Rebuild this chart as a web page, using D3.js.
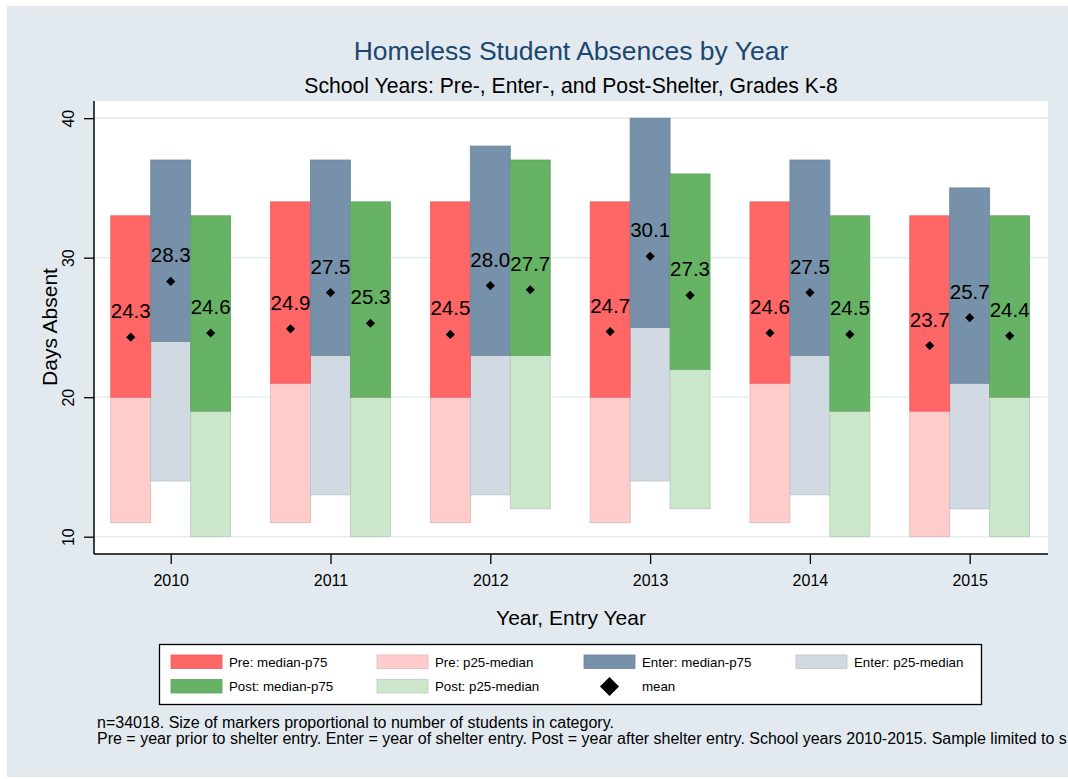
<!DOCTYPE html>
<html>
<head>
<meta charset="utf-8">
<script src="https://cdn.jsdelivr.net/npm/d3@7"></script>
<style>
  html, body { margin: 0; padding: 0; background: #ffffff; }
  svg { display: block; font-family: "Liberation Sans", Arial, sans-serif; }
</style>
</head>
<body>
<svg id="chart" width="1068" height="779"></svg>
<script>
// ---------- data ----------
const years = [2010, 2011, 2012, 2013, 2014, 2015];
const groups = ["Pre", "Enter", "Post"];

const preP25    = [11, 11, 11, 11, 11, 10];
const preMedian = [20, 21, 20, 20, 21, 19];
const preP75    = [33, 34, 34, 34, 34, 33];
const preMean   = [24.3, 24.9, 24.5, 24.7, 24.6, 23.7];

const enterP25    = [14, 13, 13, 14, 13, 12];
const enterMedian = [24, 23, 23, 25, 23, 21];
const enterP75    = [37, 37, 38, 40, 37, 35];
const enterMean   = [28.3, 27.5, 28.0, 30.1, 27.5, 25.7];

const postP25    = [10, 10, 12, 12, 10, 10];
const postMedian = [19, 20, 23, 22, 19, 20];
const postP75    = [33, 34, 37, 36, 33, 33];
const postMean   = [24.6, 25.3, 27.7, 27.3, 24.5, 24.4];

const yTicks = [10, 20, 30, 40];

const titleText = "Homeless Student Absences by Year";
const subtitleText = "School Years: Pre-, Enter-, and Post-Shelter, Grades K-8";
const yTitle = "Days Absent";
const xTitle = "Year, Entry Year";
const legendLabels = ["Pre: median-p75", "Pre: p25-median", "Enter: median-p75", "Enter: p25-median",
                      "Post: median-p75", "Post: p25-median", "mean"];
const notes = [
  "n=34018. Size of markers proportional to number of students in category.",
  "Pre = year prior to shelter entry. Enter = year of shelter entry. Post = year after shelter entry. School years 2010-2015. Sample limited to s"
];

// ---------- styles ----------
const colUpper = { Pre: "#ff6666", Enter: "#7691a9", Post: "#66b366" };
const colLower = { Pre: "#ffcccc", Enter: "#d1dae2", Post: "#cce6cc" };
const groupOffset = { Pre: -0.25, Enter: 0, Post: 0.25 };

const series = {
  Pre:   { p25: preP25,   med: preMedian,   p75: preP75,   mean: preMean },
  Enter: { p25: enterP25, med: enterMedian, p75: enterP75, mean: enterMean },
  Post:  { p25: postP25,  med: postMedian,  p75: postP75,  mean: postMean }
};

const rows = [];
groups.forEach(g => years.forEach((yr, i) => rows.push({
  g, year: yr, p25: series[g].p25[i], med: series[g].med[i], p75: series[g].p75[i], mean: series[g].mean[i]
})));

const svg = d3.select("#chart");

// backgrounds
svg.append("rect").attr("x", 7).attr("y", 6).attr("width", 1061).attr("height", 771).attr("fill", "#e2eaf0");
const plot = { left: 94, right: 1048, top: 101, bottom: 554 };
svg.append("rect").attr("x", plot.left).attr("y", plot.top)
   .attr("width", plot.right - plot.left).attr("height", plot.bottom - plot.top).attr("fill", "#ffffff");

const x = d3.scaleLinear().domain([2009.52, 2015.49]).range([plot.left, plot.right]);
const y = d3.scaleLinear().domain([8.76, 41.23]).range([plot.bottom, plot.top]);

// gridlines
svg.append("g").selectAll("line").data(yTicks).join("line")
  .attr("x1", plot.left).attr("x2", plot.right)
  .attr("y1", d => y(d)).attr("y2", d => y(d))
  .attr("stroke", "#e6eef1").attr("stroke-width", 1.6);

const bw = x(2010.25) - x(2010);

// lower boxes (p25 - median)
svg.append("g").selectAll("rect").data(rows).join("rect")
  .attr("x", d => x(d.year + groupOffset[d.g]) - bw / 2)
  .attr("width", bw)
  .attr("y", d => y(d.med))
  .attr("height", d => y(d.p25) - y(d.med))
  .attr("fill", d => colLower[d.g])
  .attr("stroke", d => d3.color(colLower[d.g]).darker(0.35))
  .attr("stroke-width", 0.8);

// upper boxes (median - p75)
svg.append("g").selectAll("rect").data(rows).join("rect")
  .attr("x", d => x(d.year + groupOffset[d.g]) - bw / 2)
  .attr("width", bw)
  .attr("y", d => y(d.p75))
  .attr("height", d => y(d.med) - y(d.p75))
  .attr("fill", d => colUpper[d.g])
  .attr("stroke", d => d3.color(colUpper[d.g]).darker(0.25))
  .attr("stroke-width", 0.8);

// mean markers
const diamond = (cx, cy, r) => `M${cx},${cy - r}L${cx + r},${cy}L${cx},${cy + r}L${cx - r},${cy}Z`;
svg.append("g").selectAll("path").data(rows).join("path")
  .attr("d", d => diamond(x(d.year + groupOffset[d.g]), y(d.mean), 4.6))
  .attr("fill", "#000");

// mean labels
svg.append("g").selectAll("text").data(rows).join("text")
  .attr("x", d => x(d.year + groupOffset[d.g]))
  .attr("y", d => y(d.mean) - 19)
  .attr("text-anchor", "middle")
  .attr("font-size", 20.5)
  .attr("fill", "#000")
  .text(d => d.mean.toFixed(1));

// axes
const yAxis = d3.axisLeft(y).tickValues(yTicks).tickSize(10).tickSizeOuter(0).tickFormat(d3.format("d"));
const gy = svg.append("g").attr("transform", `translate(${plot.left},0)`).call(yAxis);
gy.select(".domain").attr("d", `M0,${plot.top}V${plot.bottom}`).attr("stroke", "#000").attr("stroke-width", 1.5);
gy.selectAll(".tick line").attr("stroke", "#000").attr("stroke-width", 1.3);
gy.selectAll(".tick text")
  .attr("font-size", 16).attr("font-family", "Liberation Sans, Arial, sans-serif").attr("fill", "#000")
  .attr("x", null).attr("y", null)
  .attr("transform", "translate(-26,0) rotate(-90)")
  .attr("text-anchor", "middle").attr("dy", "0.35em");

const xAxis = d3.axisBottom(x).tickValues(years).tickSize(10).tickSizeOuter(0).tickFormat(d3.format("d"));
const gx = svg.append("g").attr("transform", `translate(0,${plot.bottom})`).call(xAxis);
gx.select(".domain").attr("d", `M${plot.left},0H${plot.right}`).attr("stroke", "#000").attr("stroke-width", 1.5);
gx.selectAll(".tick line").attr("stroke", "#000").attr("stroke-width", 1.3);
gx.selectAll(".tick text")
  .attr("font-size", 16).attr("font-family", "Liberation Sans, Arial, sans-serif").attr("fill", "#000")
  .attr("y", 32).attr("dy", 0);

// titles
const cx = (plot.left + plot.right) / 2;
svg.append("text").attr("x", cx).attr("y", 60).attr("text-anchor", "middle")
  .attr("font-size", 26.5).attr("fill", "#1a476f").text(titleText);
svg.append("text").attr("x", cx).attr("y", 93).attr("text-anchor", "middle")
  .attr("font-size", 21.2).attr("fill", "#000").text(subtitleText);
svg.append("text").attr("transform", `translate(57,327) rotate(-90)`).attr("text-anchor", "middle")
  .attr("font-size", 21).attr("fill", "#000").text(yTitle);
svg.append("text").attr("x", cx).attr("y", 625).attr("text-anchor", "middle")
  .attr("font-size", 21).attr("fill", "#000").text(xTitle);

// legend
const lg = svg.append("g");
lg.append("rect").attr("x", 159.5).attr("y", 644.5).attr("width", 822).attr("height", 60)
  .attr("fill", "#fff").attr("stroke", "#000").attr("stroke-width", 1.3);
const colX = [171, 377, 584, 796];
const rowY = [661.5, 686];
const legendItems = [
  { label: legendLabels[0], fill: colUpper.Pre },
  { label: legendLabels[1], fill: colLower.Pre },
  { label: legendLabels[2], fill: colUpper.Enter },
  { label: legendLabels[3], fill: colLower.Enter },
  { label: legendLabels[4], fill: colUpper.Post },
  { label: legendLabels[5], fill: colLower.Post },
  { label: legendLabels[6], marker: true }
];
legendItems.forEach((it, i) => {
  const lx = colX[i % 4], ly = rowY[Math.floor(i / 4)];
  if (it.marker) {
    lg.append("path").attr("d", diamond(lx + 25.5, ly + 0.5, 9.5)).attr("fill", "#000");
  } else {
    lg.append("rect").attr("x", lx).attr("y", ly - 6.5).attr("width", 51).attr("height", 13.5)
      .attr("fill", it.fill).attr("stroke", d3.color(it.fill).darker(0.3)).attr("stroke-width", 0.8);
  }
  lg.append("text").attr("x", lx + 58).attr("y", ly + 5).attr("font-size", 13.3).attr("fill", "#000").text(it.label);
});

// notes (the reference cuts the second line at the picture's right edge)
notes.forEach((t, i) => {
  svg.append("text").attr("x", 97).attr("y", 728 + i * 15.5).attr("font-size", 16).attr("fill", "#000").text(t);
});
</script>
</body>
</html>
